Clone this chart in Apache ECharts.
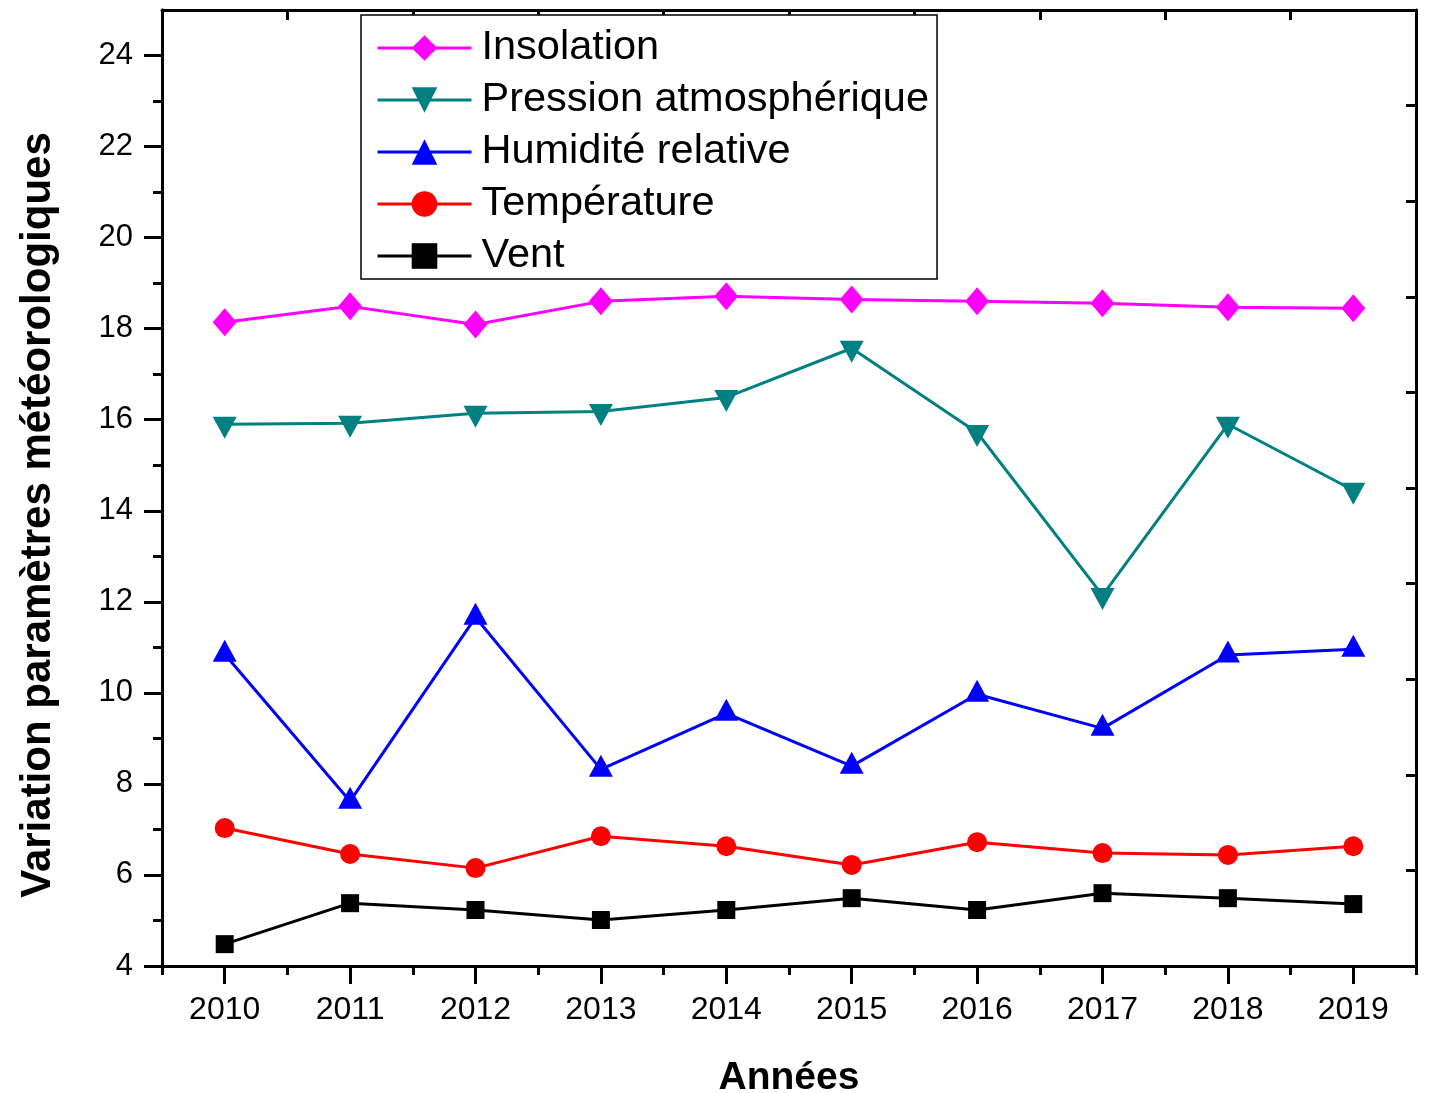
<!DOCTYPE html>
<html><head><meta charset="utf-8">
<script src="https://cdn.jsdelivr.net/npm/echarts@6/dist/echarts.min.js"></script>
<style>html,body{margin:0;padding:0;background:#fff}#c{width:1435px;height:1093px}</style>
</head><body><div id="c"></div>
<script>
const years = ['2010','2011','2012','2013','2014','2015','2016','2017','2018','2019'];
const insolation = [18.14, 18.49, 18.09, 18.60, 18.71, 18.64, 18.60, 18.56, 18.47, 18.45];
const pression   = [15.90, 15.92, 16.14, 16.18, 16.49, 17.57, 15.72, 12.14, 15.90, 14.45];
const humidite   = [10.85, 7.62, 11.66, 8.32, 9.55, 8.39, 9.97, 9.22, 10.83, 10.96];
const temperature= [7.03, 6.46, 6.15, 6.85, 6.63, 6.22, 6.72, 6.48, 6.44, 6.63];
const vent       = [4.48, 5.38, 5.23, 5.01, 5.23, 5.49, 5.23, 5.60, 5.49, 5.36];
const yMajorTicks = [4, 6, 8, 10, 12, 14, 16, 18, 20, 22, 24];
const yMinorTicks = [5, 7, 9, 11, 13, 15, 17, 19, 21, 23];

const FF = "'Liberation Sans', Arial, sans-serif";
const line = {color: '#000', width: 3};
const chart = echarts.init(document.getElementById('c'));

function mkSeries(name, data, color, symbol, size, extra) {
  return Object.assign({
    name, type: 'line', data, xAxisIndex: 0, yAxisIndex: 0,
    symbol, symbolSize: size,
    lineStyle: {color, width: 3},
    itemStyle: {color},
    emphasis: {disabled: true},
    animation: false
  }, extra || {});
}

chart.setOption({
  animation: false,
  grid: {left: 162, right: 19, top: 10, bottom: 127, containLabel: false},
  xAxis: [
    {type: 'category', data: years, position: 'bottom', boundaryGap: true,
     axisLine: {show: true, onZero: false, lineStyle: line},
     axisTick: {show: true, alignWithLabel: true, interval: 0, length: 18, lineStyle: line},
     axisLabel: {show: true, interval: 0, fontSize: 32, color: '#000', fontFamily: FF, margin: 28},
     splitLine: {show: false}},
    {type: 'category', data: years, position: 'bottom', boundaryGap: true,
     axisLine: {show: true, onZero: false, lineStyle: line},
     axisTick: {show: true, alignWithLabel: false, interval: 0, length: 9, lineStyle: line},
     axisLabel: {show: false}, splitLine: {show: false}},
    {type: 'category', data: years, position: 'top', boundaryGap: true,
     axisLine: {show: true, onZero: false, lineStyle: line},
     axisTick: {show: true, inside: true, alignWithLabel: false, interval: 0, length: 10, lineStyle: line},
     axisLabel: {show: false}, splitLine: {show: false}}
  ],
  yAxis: [
    {type: 'value', min: 4, max: 25, position: 'left',
     axisLine: {show: true, onZero: false, lineStyle: line},
     axisTick: {show: true, customValues: yMajorTicks, length: 18, lineStyle: line},
     axisLabel: {show: true, customValues: yMajorTicks, fontSize: 31, color: '#000', fontFamily: FF, margin: 29},
     splitLine: {show: false}},
    {type: 'value', min: 4, max: 25, position: 'left',
     axisLine: {show: true, onZero: false, lineStyle: line},
     axisTick: {show: true, customValues: yMinorTicks, length: 9, lineStyle: line},
     axisLabel: {show: false}, splitLine: {show: false}},
    {type: 'value', min: 0, max: 10, interval: 1, position: 'right',
     axisLine: {show: true, onZero: false, lineStyle: line},
     axisTick: {show: true, inside: true, length: 10, lineStyle: line},
     axisLabel: {show: false}, splitLine: {show: false}}
  ],
  legend: {
    orient: 'vertical', left: 361, top: 15,
    itemWidth: 94, itemHeight: 32, itemGap: 10,
    padding: [12, 8, 2, 15],
    borderColor: '#000', borderWidth: 1.5, backgroundColor: '#fff',
    lineStyle: {width: 3},
    textStyle: {fontSize: 41.5, color: '#000', fontFamily: FF, lineHeight: 40, padding: [0, 0, 0, 5]},
    data: ['Insolation', 'Pression atmosphérique', 'Humidité relative', 'Température', 'Vent']
  },
  graphic: [
    {type: 'text', x: 38, y: 515, rotation: Math.PI / 2,
     style: {text: 'Variation paramètres météorologiques', font: 'bold 42px ' + FF, fill: '#000', textAlign: 'center', textVerticalAlign: 'middle'}},
    {type: 'text', x: 789, y: 1078,
     style: {text: 'Années', font: 'bold 39px ' + FF, fill: '#000', textAlign: 'center', textVerticalAlign: 'middle'}}
  ],
  series: [
    mkSeries('Insolation', insolation, '#FF00FF', 'diamond', [24, 28]),
    mkSeries('Pression atmosphérique', pression, '#008080', 'triangle', [24, 22], {symbolRotate: 180, symbolOffset: [0, 3.5]}),
    mkSeries('Humidité relative', humidite, '#0000FF', 'triangle', [24, 22], {symbolOffset: [0, -3.5]}),
    mkSeries('Température', temperature, '#FF0000', 'circle', 20),
    mkSeries('Vent', vent, '#000000', 'rect', 18)
  ]
});
</script></body></html>
